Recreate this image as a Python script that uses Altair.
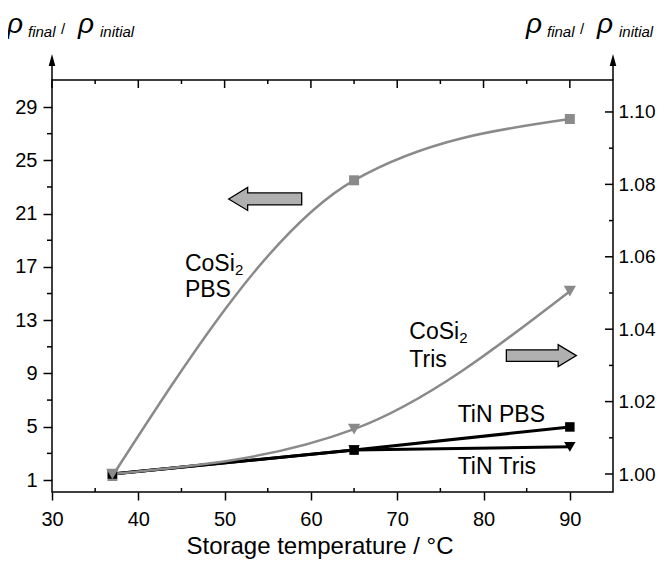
import altair as alt
import pandas as pd

# ---- data ----
temps = [37, 65, 90]
cosi2_pbs = [1.3, 23.5, 28.1]          # left axis
cosi2_tris = [1.000, 1.0124, 1.0505]   # right axis
tin_pbs = [1.000, 1.0066, 1.0130]      # right axis
tin_tris = [1.000, 1.0066, 1.0075]     # right axis

x_major = [30, 40, 50, 60, 70, 80, 90]
x_minor = [35, 45, 55, 65, 75, 85]
left_major = [1, 5, 9, 13, 17, 21, 25, 29]
left_minor = [3, 7, 11, 15, 19, 23, 27]
right_major = [1.00, 1.02, 1.04, 1.06, 1.08, 1.10]
right_minor = [1.01, 1.03, 1.05, 1.07, 1.09]

x_title = "Storage temperature / °C"

# annotation labels (data coordinates)
left_lab_text = ["CoSi", "PBS"]
left_lab_x = [45.4, 45.4]
left_lab_y = [16.67, 14.72]
left_sub_x = [45.4]
left_sub_y = [16.67]

right_lab_text = ["CoSi", "Tris", "TiN PBS", "TiN Tris"]
right_lab_x = [71.4, 71.4, 77.0, 77.0]
right_lab_y = [1.0373, 1.0295, 1.0143, 1.0000]
right_sub_x = [71.4]
right_sub_y = [1.0373]

# hollow arrows (data coordinates)
arrow_l_x, arrow_l_y = [54.7], [22.1]
arrow_r_x, arrow_r_y = [86.7], [1.0327]

W, H = 561, 412
GRAY = "#8a8a8a"
FONT = "Liberation Sans"

xs = alt.Scale(domain=[30, 95], nice=False, zero=False)
ls = alt.Scale(domain=[0.1, 31.03], nice=False, zero=False)
rs = alt.Scale(domain=[0.99503, 1.10883], nice=False, zero=False)

x_axis = alt.Axis(values=x_major, tickSize=8, tickWidth=1.5, tickColor="black",
                  labelFontSize=20, labelPadding=9, labelFlush=False, labelColor="black",
                  domain=False, grid=False, title=None)
left_axis = alt.Axis(values=left_major, tickSize=9, tickWidth=1.5, tickColor="black",
                     labelFontSize=20, labelPadding=6, labelColor="black",
                     domain=False, grid=False, title=None)
right_axis = alt.Axis(orient="right", values=right_major, ticks=False, format=".2f",
                      labelFontSize=19, labelPadding=5, labelColor="black",
                      domain=False, grid=False, title=None)

def xq():
    return alt.X("t:Q", scale=xs, axis=x_axis)

def yl():
    return alt.Y("v:Q", scale=ls, axis=left_axis)

def yr():
    return alt.Y("v:Q", scale=rs, axis=right_axis)

ARROW_L = "M-1,0L-0.48,-0.315L-0.48,-0.165L1,-0.165L1,0.165L-0.48,0.165L-0.48,0.315Z"
ARROW_R = "M1,0L0.48,-0.315L0.48,-0.165L-1,-0.165L-1,0.165L0.48,0.165L0.48,0.315Z"
HEAD = "M0,-1L0.55,1L-0.55,1Z"
LAB = 23

# ---------- left-scale layer ----------
df_pbs = pd.DataFrame({"t": temps, "v": cosi2_pbs})
pbs_line = alt.Chart(df_pbs).mark_line(interpolate="monotone", color=GRAY, strokeWidth=2.5).encode(
    x=xq(), y=yl())
pbs_pts = alt.Chart(df_pbs).mark_point(shape="square", filled=True, color=GRAY, opacity=1, size=100).encode(
    x=xq(), y=yl())
arrow_l = alt.Chart(pd.DataFrame({"t": arrow_l_x, "v": arrow_l_y})).mark_point(
    shape=ARROW_L, filled=True, fill="#b0b0b0", stroke="black", strokeWidth=1.3, opacity=1, size=73 * 73
).encode(x=xq(), y=yl())
lab_l = alt.Chart(pd.DataFrame({"t": left_lab_x, "v": left_lab_y, "s": left_lab_text})).mark_text(
    align="left", baseline="alphabetic", fontSize=LAB, color="black"
).encode(x=xq(), y=yl(), text="s:N")
sub_l = alt.Chart(pd.DataFrame({"t": left_sub_x, "v": left_sub_y})).mark_text(
    align="left", baseline="alphabetic", fontSize=15, color="black", dx=50, dy=4, text="2"
).encode(x=xq(), y=yl())
lminor = alt.Chart(pd.DataFrame({"v": left_minor})).mark_rule(color="black", strokeWidth=1.5).encode(
    y=yl(), x=alt.value(0), x2=alt.value(-5))
bminor = alt.Chart(pd.DataFrame({"t": x_minor})).mark_rule(color="black", strokeWidth=1.5).encode(
    x=xq(), y=alt.value(H), y2=alt.value(H - 4))
tmajor = alt.Chart(pd.DataFrame({"t": x_major})).mark_rule(color="black", strokeWidth=1.5).encode(
    x=xq(), y=alt.value(0), y2=alt.value(8))
tminor = alt.Chart(pd.DataFrame({"t": x_minor})).mark_rule(color="black", strokeWidth=1.5).encode(
    x=xq(), y=alt.value(0), y2=alt.value(4))

left_layer = alt.layer(pbs_line, lminor, bminor, tmajor, tminor, arrow_l, lab_l, sub_l, pbs_pts)

# ---------- right-scale layer ----------
def rline(vals, color, width, interp):
    d = pd.DataFrame({"t": temps, "v": vals})
    return alt.Chart(d).mark_line(interpolate=interp, color=color, strokeWidth=width).encode(
        x=xq(), y=yr())

def rpts(vals, color, shape, size):
    d = pd.DataFrame({"t": temps, "v": vals})
    return alt.Chart(d).mark_point(shape=shape, filled=True, color=color, opacity=1, size=size).encode(
        x=xq(), y=yr())

tin_pbs_line = rline(tin_pbs, "black", 3, "linear")
tin_tris_line = rline(tin_tris, "black", 3, "linear")
tris_line = rline(cosi2_tris, GRAY, 2.5, "monotone")
tin_pbs_pts = rpts(tin_pbs, "black", "square", 90)
tin_tris_pts = rpts(tin_tris, "black", "triangle-down", 130)
tris_pts = rpts(cosi2_tris, GRAY, "triangle-down", 150)

rmajor = alt.Chart(pd.DataFrame({"v": right_major})).mark_rule(color="black", strokeWidth=1.5).encode(
    y=yr(), x=alt.value(W), x2=alt.value(W - 8))
rminor = alt.Chart(pd.DataFrame({"v": right_minor})).mark_rule(color="black", strokeWidth=1.5).encode(
    y=yr(), x=alt.value(W), x2=alt.value(W - 4))
arrow_r = alt.Chart(pd.DataFrame({"t": arrow_r_x, "v": arrow_r_y})).mark_point(
    shape=ARROW_R, filled=True, fill="#b0b0b0", stroke="black", strokeWidth=1.3, opacity=1, size=70 * 70
).encode(x=xq(), y=yr())
lab_r = alt.Chart(pd.DataFrame({"t": right_lab_x, "v": right_lab_y, "s": right_lab_text})).mark_text(
    align="left", baseline="alphabetic", fontSize=LAB, color="black"
).encode(x=xq(), y=yr(), text="s:N")
sub_r = alt.Chart(pd.DataFrame({"t": right_sub_x, "v": right_sub_y})).mark_text(
    align="left", baseline="alphabetic", fontSize=15, color="black", dx=50, dy=4, text="2"
).encode(x=xq(), y=yr())

right_layer = alt.layer(tin_pbs_line, rmajor, rminor, arrow_r, lab_r, sub_r,
                        tin_tris_line, tris_line,
                        tin_pbs_pts, tin_tris_pts, tris_pts)

# ---------- decorations: axis arrows and axis titles ----------
one = alt.Data(values=[{}])
deco = []
for xpos in (0, W):
    deco.append(alt.Chart(one).mark_rule(color="black", strokeWidth=1.5).encode(
        x=alt.value(xpos), y=alt.value(0), y2=alt.value(-14)))
    deco.append(alt.Chart(one).mark_point(shape=HEAD, filled=True, color="black", opacity=1, size=144).encode(
        x=alt.value(xpos), y=alt.value(-20)))

def piece(txt, xpos, ypos, size, style, align="left"):
    return alt.Chart(one).mark_text(align=align, baseline="alphabetic", fontSize=size,
                                    fontStyle=style, color="black").encode(
        x=alt.value(xpos), y=alt.value(ypos), text=alt.value(txt))

for x0 in (-45, 474):
    deco += [
        piece("ρ", x0, -47, 28, "italic"),
        piece("final", x0 + 21, -43, 15, "italic"),
        piece("/", x0 + 54, -46, 15, "normal"),
        piece("ρ", x0 + 71, -47, 28, "italic"),
        piece("initial", x0 + 93, -43, 15, "italic"),
    ]
deco.append(piece(x_title, 268, H + 62, 24, "normal", align="center"))

chart = alt.layer(left_layer, right_layer, *deco).resolve_scale(y="independent").properties(
    width=W, height=H,
    autosize=alt.AutoSizeParams(type="none"),
    padding={"left": 44, "top": 72, "right": 43, "bottom": 67},
).configure(font=FONT).configure_view(stroke="black", strokeWidth=1.5)

chart.save("out.html", embed_options={"renderer": "svg", "actions": False})
